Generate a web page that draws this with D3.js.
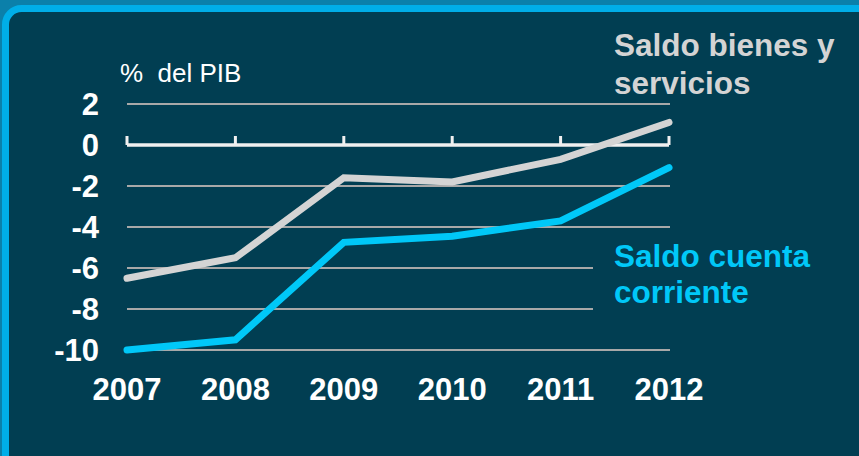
<!doctype html>
<html>
  <head>
    <script src="https://cdn.jsdelivr.net/npm/d3@7/dist/d3.min.js"></script>
    <style>
      body { margin: 0; background: #0b80aa; }
      svg { display: block; font-family: "Liberation Sans", Arial, sans-serif; }
    </style>
  </head>
  <body>
    <script>
        var years = ["2007", "2008", "2009", "2010", "2011", "2012"];
        var bienes = [-6.5, -5.5, -1.6, -1.8, -0.7, 1.1];   // Saldo bienes y servicios
        var cuenta = [-10.0, -9.5, -4.75, -4.45, -3.7, -1.1]; // Saldo cuenta corriente
        var yTicks = [2, 0, -2, -4, -6, -8, -10];

        var width = 859, height = 456;

        var svg = d3.select("body").append("svg")
            .attr("width", width)
            .attr("height", height);

        // frame
        svg.append("rect")
            .attr("width", width).attr("height", height)
            .attr("fill", "#0b80aa");
        svg.append("rect")
            .attr("x", 5.5).attr("y", 8.5)
            .attr("width", 920).attr("height", 520)
            .attr("rx", 16)
            .attr("fill", "#013e52")
            .attr("stroke", "#00aee8")
            .attr("stroke-width", 7);

        var x = d3.scalePoint()
            .domain(years)
            .range([127, 669]);

        var y = d3.scaleLinear()
            .domain([-10, 2])
            .range([350, 104]);

        // gridlines (not at zero, the axis sits there)
        svg.selectAll(".grid")
            .data(yTicks.filter(d => d !== 0))
            .enter().append("line")
            .attr("class", "grid")
            .attr("x1", x("2007")).attr("x2", x("2012") + 1)
            .attr("y1", d => y(d)).attr("y2", d => y(d))
            .attr("stroke", "#a8a8a8")
            .attr("stroke-width", 2);

        // box behind the "Saldo cuenta corriente" label hides the grid
        svg.append("rect")
            .attr("x", 593).attr("y", 236)
            .attr("width", 240).attr("height", 90)
            .attr("fill", "#013e52");

        // zero axis with ticks at each year
        svg.append("line")
            .attr("x1", x("2007")).attr("x2", x("2012"))
            .attr("y1", y(0)).attr("y2", y(0))
            .attr("stroke", "#f0f0f0")
            .attr("stroke-width", 3.5);
        svg.selectAll(".tick")
            .data(years)
            .enter().append("line")
            .attr("class", "tick")
            .attr("x1", d => x(d)).attr("x2", d => x(d))
            .attr("y1", y(0) - 9).attr("y2", y(0))
            .attr("stroke", "#f0f0f0")
            .attr("stroke-width", 3);

        // series
        var line = d3.line()
            .x((d, i) => x(years[i]))
            .y(d => y(d));

        svg.append("path")
            .datum(bienes)
            .attr("d", line)
            .attr("fill", "none")
            .attr("stroke", "#d4d4d4")
            .attr("stroke-width", 7)
            .attr("stroke-linecap", "round");

        svg.append("path")
            .datum(cuenta)
            .attr("d", line)
            .attr("fill", "none")
            .attr("stroke", "#00c8f8")
            .attr("stroke-width", 7)
            .attr("stroke-linecap", "round");

        // y labels
        svg.selectAll(".ylab")
            .data(yTicks)
            .enter().append("text")
            .attr("class", "ylab")
            .attr("x", 99)
            .attr("y", d => y(d))
            .attr("dy", "0.36em")
            .attr("text-anchor", "end")
            .attr("font-size", 31)
            .attr("font-weight", "bold")
            .attr("fill", "#ffffff")
            .text(d => d);

        // x labels
        svg.selectAll(".xlab")
            .data(years)
            .enter().append("text")
            .attr("class", "xlab")
            .attr("x", d => x(d))
            .attr("y", 400)
            .attr("text-anchor", "middle")
            .attr("font-size", 31)
            .attr("font-weight", "bold")
            .attr("fill", "#ffffff")
            .text(d => d);

        svg.append("text")
            .attr("x", 120).attr("y", 82)
            .attr("font-size", 26)
            .attr("fill", "#ffffff")
            .style("white-space", "pre")
            .text("%  del PIB");

        var lab1 = svg.append("text")
            .attr("font-size", 31.5)
            .attr("font-weight", "bold")
            .attr("fill", "#d4d4d4");
        lab1.append("tspan").attr("x", 614).attr("y", 56).text("Saldo bienes y");
        lab1.append("tspan").attr("x", 614).attr("y", 94).text("servicios");

        var lab2 = svg.append("text")
            .attr("font-size", 31.5)
            .attr("font-weight", "bold")
            .attr("fill", "#00c8f8");
        lab2.append("tspan").attr("x", 614).attr("y", 267).text("Saldo cuenta");
        lab2.append("tspan").attr("x", 614).attr("y", 303).text("corriente");
    </script>
  </body>
</html>
